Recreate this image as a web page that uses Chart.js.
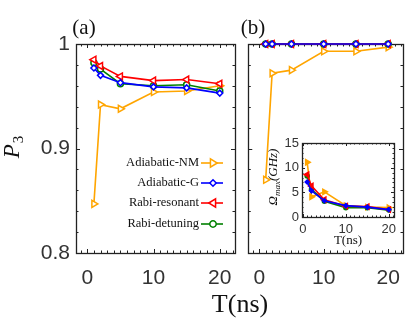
<!DOCTYPE html>
<html>
<head>
<meta charset="utf-8">
<script src="https://cdn.jsdelivr.net/npm/chart.js@4.4.0/dist/chart.umd.min.js"></script>
<style>
body{margin:0;background:#fff;}
#wrap{position:relative;width:415px;height:333px;}
canvas{position:absolute;}
</style>
</head>
<body>
<div id="wrap">
<canvas id="cA" width="415" height="333" style="left:0;top:0"></canvas>
<canvas id="cB" width="175" height="333" style="left:240px;top:0"></canvas>
<canvas id="cI" width="145" height="120" style="left:260px;top:130px"></canvas>
</div>
<script>
// pulse duration T (ns)
var T = [1, 2, 5, 10, 15, 20];
// panel (a) P3
var nmA  = [0.847, 0.942, 0.938, 0.954, 0.955, 0.960];
var gA   = [0.977, 0.970, 0.963, 0.959, 0.958, 0.953];
var resA = [0.985, 0.979, 0.969, 0.965, 0.966, 0.962];
var detA = [0.982, 0.976, 0.962, 0.960, 0.961, 0.955];
// panel (b) P3
var nmB  = [0.870, 0.972, 0.975, 0.993, 0.993, 0.997];
var gB   = [1, 1, 1, 1, 1, 1];
var resB = [1, 1, 1, 1, 1, 1];
var detB = [1, 1, 1, 1, 1, 1];
// inset: Omega_max (GHz)
var nmOm  = [11.1, 4.1, 5.1, 2.3, 2.0, 1.9];
var gOm   = [7.1, 5.3, 3.3, 2.3, 2.0, 1.5];
var resOm = [8.6, 6.3, 3.5, 2.2, 2.1, 1.5];
var detOm = [8.3, 5.6, 3.2, 1.9, 1.9, 1.4];

var names = ['Adiabatic-NM', 'Adiabatic-G', 'Rabi-resonant', 'Rabi-detuning'];
var pTicks = [0.8, 0.9, 1];
var tTicks = [0, 10, 20];
var omTicks = [0, 5, 10, 15];

var styles = [
	{color: '#FFA500', shape: 'triangle', rot: 90},
	{color: '#0000FF', shape: 'rectRot', rot: 0},
	{color: '#FF0000', shape: 'triangle', rot: -90},
	{color: '#008000', shape: 'circle', rot: 0}
];

function pts(vals) {
	return T.map(function(t, i){ return {x: t, y: vals[i]}; });
}

// draw order: blue on top, orange at the bottom
function makeSets(series, r, filled) {
	var order = [1, 2, 3, 0];
	return order.map(function(k){
		var s = styles[k];
		return {
			label: names[k],
			data: pts(series[k]),
			borderColor: s.color,
			backgroundColor: s.color,
			pointBackgroundColor: filled ? s.color : '#fff',
			pointBorderColor: s.color,
			pointStyle: s.shape,
			pointRotation: s.rot,
			pointRadius: s.shape == 'triangle' ? r + 1 : r,
			pointBorderWidth: 1.5,
			borderWidth: 1.6,
			clip: false,
			tension: 0
		};
	});
}

var frame = {
	id: 'frame',
	beforeDatasetsDraw: function(chart, args, o) {
		var a = chart.chartArea, ctx = chart.ctx;
		var sx = chart.scales.x, sy = chart.scales.y;
		ctx.save();
		ctx.strokeStyle = '#222';
		ctx.lineWidth = 1.3;
		ctx.strokeRect(Math.round(a.left) + 0.5, Math.round(a.top) + 0.5, Math.round(a.right - a.left), Math.round(a.bottom - a.top));
		ctx.lineWidth = 1;
		var i, v, p, len;
		for (i = Math.ceil(sx.min / o.xs); i * o.xs <= sx.max; i++) {
			v = i * o.xs;
			p = Math.round(sx.getPixelForValue(v)) + 0.5;
			len = (Math.abs(v / o.xb - Math.round(v / o.xb)) < 1e-6) ? o.big : o.small;
			ctx.beginPath();
			ctx.moveTo(p, a.bottom); ctx.lineTo(p, a.bottom - len);
			ctx.moveTo(p, a.top); ctx.lineTo(p, a.top + len);
			ctx.stroke();
		}
		for (i = Math.ceil(sy.min / o.ys - 1e-6); i * o.ys <= sy.max + 1e-9; i++) {
			v = i * o.ys;
			p = Math.round(sy.getPixelForValue(v)) + 0.5;
			len = (Math.abs(v / o.yb - Math.round(v / o.yb)) < 1e-6) ? o.big : o.small;
			ctx.beginPath();
			ctx.moveTo(a.left, p); ctx.lineTo(a.left + len, p);
			ctx.moveTo(a.right, p); ctx.lineTo(a.right - len, p);
			ctx.stroke();
		}
		ctx.restore();
	}
};

function marker(ctx, s, x, y, r) {
	ctx.save();
	ctx.translate(x, y);
	ctx.rotate(s.rot * Math.PI / 180);
	ctx.beginPath();
	if (s.shape == 'circle') {
		ctx.arc(0, 0, r, 0, Math.PI * 2);
	} else if (s.shape == 'rectRot') {
		ctx.moveTo(0, -r); ctx.lineTo(r, 0); ctx.lineTo(0, r); ctx.lineTo(-r, 0); ctx.closePath();
	} else {
		ctx.moveTo(0, -r - 1); ctx.lineTo(r + 1, r * 0.8); ctx.lineTo(-r - 1, r * 0.8); ctx.closePath();
	}
	ctx.fillStyle = '#fff';
	ctx.fill();
	ctx.lineWidth = 1.5;
	ctx.strokeStyle = s.color;
	ctx.stroke();
	ctx.restore();
}

// legend + axis labels for the main panel
var textsA = {
	id: 'textsA',
	afterDraw: function(chart) {
		var ctx = chart.ctx;
		ctx.save();
		ctx.fillStyle = '#111';
		ctx.textBaseline = 'middle';
		ctx.font = '12.5px "Liberation Serif", serif';
		var ly = [163, 183, 203, 224];
		names.forEach(function(n, k){
			ctx.fillStyle = '#111';
			ctx.textAlign = 'right';
			ctx.fillText(n, 199, ly[k]);
			ctx.strokeStyle = styles[k].color;
			ctx.lineWidth = 1.6;
			ctx.beginPath();
			ctx.moveTo(201, ly[k]); ctx.lineTo(223, ly[k]);
			ctx.stroke();
			marker(ctx, styles[k], 213, ly[k], 3.2);
		});
		ctx.fillStyle = '#111';
		ctx.textAlign = 'center';
		ctx.font = '26px "Liberation Serif", serif';
		ctx.fillText('T(ns)', 240, 305);
		ctx.font = '21px "Liberation Serif", serif';
		ctx.fillText('(a)', 84, 28);
		ctx.fillText('(b)', 253, 28);
		// P_3 rotated
		ctx.translate(19, 147);
		ctx.rotate(-Math.PI / 2);
		ctx.textAlign = 'left';
		ctx.textBaseline = 'alphabetic';
		ctx.font = 'italic 23px "Liberation Serif", serif';
		var wP = ctx.measureText('P').width;
		ctx.font = '15px "Liberation Serif", serif';
		var w3 = ctx.measureText('3').width;
		var x0 = -(wP + w3 + 1) / 2;
		ctx.font = 'italic 23px "Liberation Serif", serif';
		ctx.fillText('P', x0, 0);
		ctx.font = '15px "Liberation Serif", serif';
		ctx.fillText('3', x0 + wP + 1, 4);
		ctx.restore();
	}
};

var textsI = {
	id: 'textsI',
	afterDraw: function(chart) {
		var ctx = chart.ctx, a = chart.chartArea;
		ctx.save();
		ctx.fillStyle = '#111';
		ctx.textAlign = 'center';
		ctx.textBaseline = 'middle';
		ctx.font = '13px "Liberation Serif", serif';
		ctx.fillText('T(ns)', (a.left + a.right) / 2, 111);
		ctx.translate(17, 47);
		ctx.rotate(-Math.PI / 2);
		ctx.textAlign = 'left';
		ctx.textBaseline = 'alphabetic';
		var big = 'italic 13px "Liberation Serif", serif', small = 'italic 9px "Liberation Serif", serif';
		ctx.font = big; var w1 = ctx.measureText('\u03A9').width, w3 = ctx.measureText('(GHz)').width;
		ctx.font = small; var w2 = ctx.measureText('max').width;
		var x0 = -(w1 + w2 + w3) / 2;
		ctx.font = big; ctx.fillText('\u03A9', x0, 0);
		ctx.font = small; ctx.fillText('max', x0 + w1, 3);
		ctx.font = big; ctx.fillText('(GHz)', x0 + w1 + w2, 0);
		ctx.restore();
	}
};

function mainOpts(pad, yw, showY) {
	return {
		responsive: false,
		animation: false,
		events: [],
		layout: {padding: pad},
		plugins: {legend: {display: false}, tooltip: {enabled: false},
			frame: {xs: 1, xb: 10, ys: 0.02, yb: 0.1, small: 2.5, big: 4}},
		scales: {
			x: {
				type: 'linear', min: -1.7, max: 22.3,
				afterBuildTicks: function(s){ s.ticks = tTicks.map(function(v){ return {value: v}; }); },
				afterFit: function(s){ s.height = 80; },
				grid: {display: false, drawTicks: false},
				border: {display: false},
				ticks: {font: {family: 'Liberation Sans', size: 21}, color: '#333', padding: 13, maxRotation: 0, autoSkip: false}
			},
			y: {
				min: 0.8, max: 1,
				afterBuildTicks: function(s){ s.ticks = pTicks.map(function(v){ return {value: v}; }); },
				afterFit: function(s){ s.width = yw; },
				grid: {display: false, drawTicks: false},
				border: {display: false},
				ticks: {display: showY, font: {family: 'Liberation Sans', size: 21}, color: '#333', padding: 6,
					callback: function(v){ return v == 1 ? '1' : v.toFixed(1); }}
			}
		}
	};
}

new Chart(document.getElementById('cA'), {
	type: 'line',
	data: {datasets: makeSets([nmA, gA, resA, detA], 3, false)},
	options: mainOpts({top: 44, right: 180, left: 0, bottom: 0}, 76, true),
	plugins: [frame, textsA]
});

new Chart(document.getElementById('cB'), {
	type: 'line',
	data: {datasets: makeSets([nmB, gB, resB, detB], 3, false)},
	options: mainOpts({top: 44, right: 12, left: 0, bottom: 0}, 3, false),
	plugins: [frame]
});

new Chart(document.getElementById('cI'), {
	type: 'line',
	data: {datasets: makeSets([nmOm, gOm, resOm, detOm], 2, true)},
	options: {
		responsive: false,
		animation: false,
		events: [],
		layout: {padding: {top: 13, right: 11, left: 0, bottom: 0}},
		plugins: {legend: {display: false}, tooltip: {enabled: false},
			frame: {xs: 1, xb: 10, ys: 1, yb: 5, small: 1.5, big: 3}},
		scales: {
			x: {
				type: 'linear', min: -0.2, max: 21.2,
				afterBuildTicks: function(s){ s.ticks = tTicks.map(function(v){ return {value: v}; }); },
				afterFit: function(s){ s.height = 33; },
				grid: {display: false, drawTicks: false},
				border: {display: false},
				ticks: {font: {family: 'Liberation Sans', size: 13}, color: '#333', padding: 5, maxRotation: 0, autoSkip: false}
			},
			y: {
				min: 0, max: 15,
				afterBuildTicks: function(s){ s.ticks = omTicks.map(function(v){ return {value: v}; }); },
				afterFit: function(s){ s.width = 42; },
				grid: {display: false, drawTicks: false},
				border: {display: false},
				ticks: {font: {family: 'Liberation Sans', size: 13}, color: '#333', padding: 3}
			}
		}
	},
	plugins: [frame, textsI]
});
</script>
</body>
</html>
